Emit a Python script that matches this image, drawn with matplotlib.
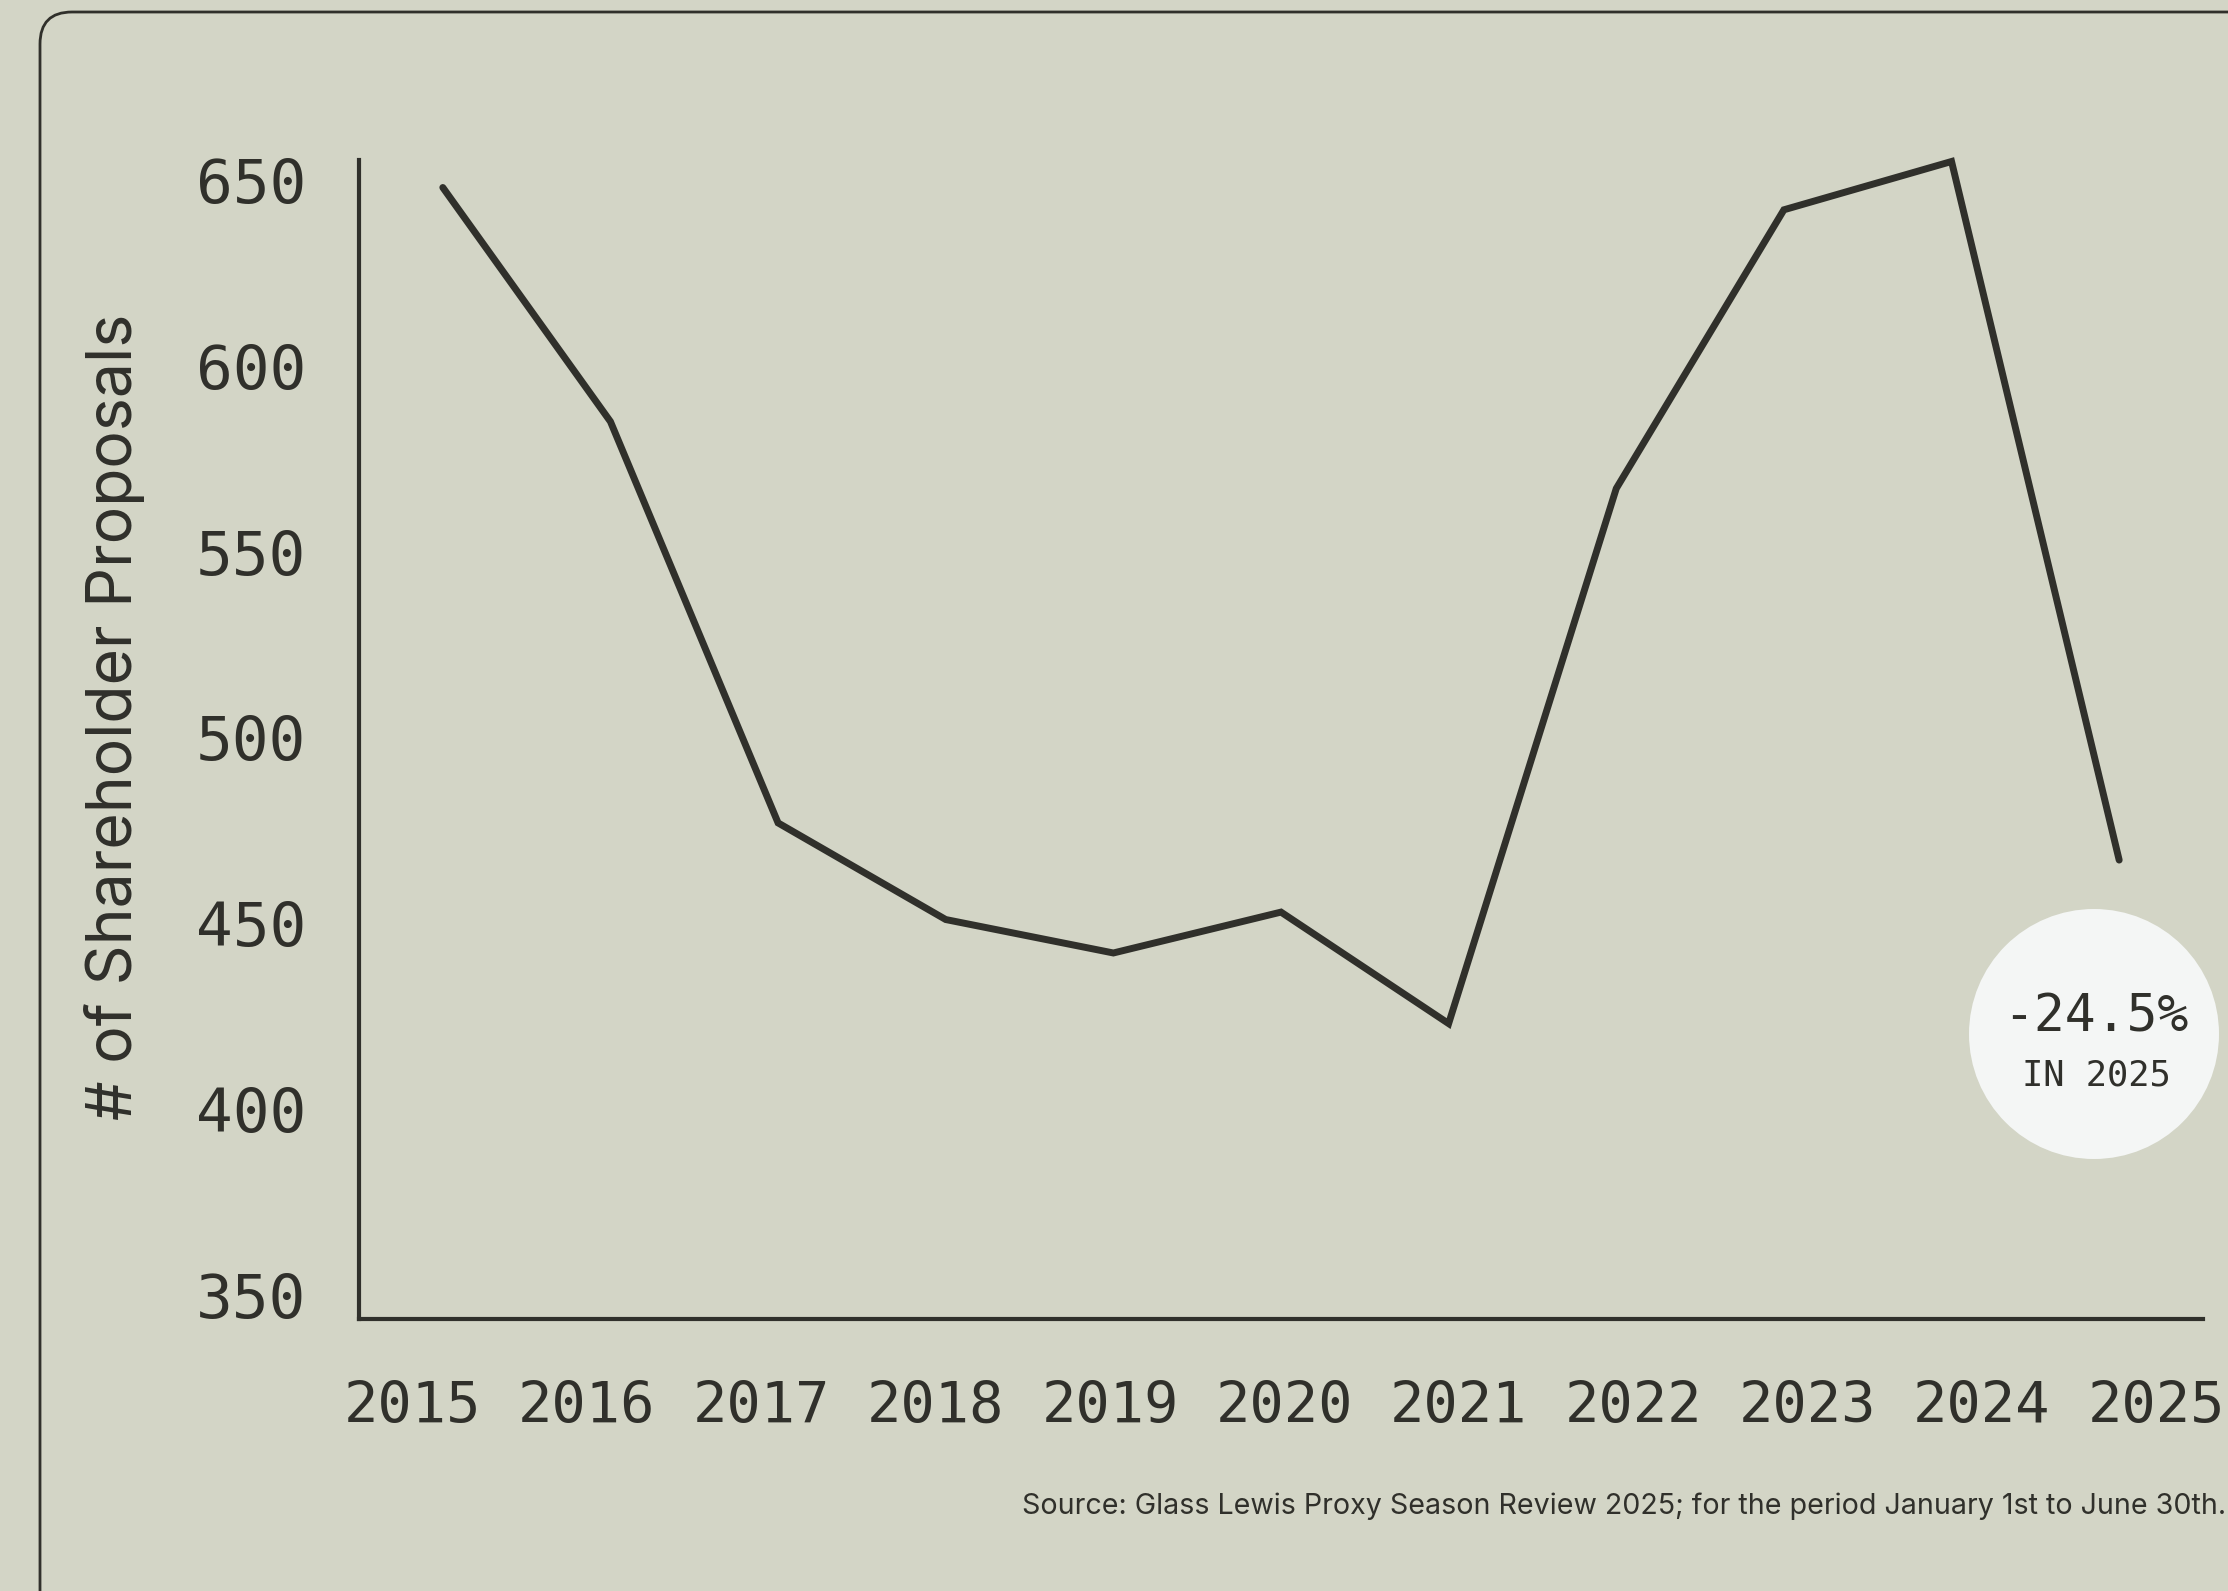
import matplotlib
matplotlib.use("Agg")
import matplotlib.pyplot as plt
from matplotlib.patches import FancyBboxPatch, Ellipse
from matplotlib.transforms import IdentityTransform

years = ["2015", "2016", "2017", "2018", "2019", "2020",
         "2021", "2022", "2023", "2024", "2025"]
proposals = [648, 585, 477, 451, 442, 453, 423, 567, 642, 655, 467]
y_ticks = [350, 400, 450, 500, 550, 600, 650]
change_text = "-24.5%"
change_sub = "IN 2025"
source = "Source: Glass Lewis Proxy Season Review 2025; for the period January 1st to June 30th."

BG = "#d3d5c6"
INK = "#30302b"
W, H, DPI = 2228, 1591, 100

fig = plt.figure(figsize=(W / DPI, H / DPI), dpi=DPI, facecolor=BG)

# rounded frame running off the right and bottom edges
frame = FancyBboxPatch((40, -60), 2400, H - 12 + 60,
                       boxstyle="round,pad=0,rounding_size=32",
                       transform=IdentityTransform(), facecolor="none",
                       edgecolor=INK, linewidth=2)
fig.add_artist(frame)

ax = fig.add_axes([359 / W, 272 / H, (2203 - 359) / W, (1431 - 272) / H])
ax.set_facecolor(BG)

x = list(range(len(years)))
ax.plot(x, proposals, color=INK, linewidth=5, solid_capstyle="round",
        solid_joinstyle="miter", clip_on=False)

ax.set_xlim(-0.5, len(years) - 0.5)
ax.set_ylim(343.5, 655.4)

for side in ["top", "right"]:
    ax.spines[side].set_visible(False)
for side in ["left", "bottom"]:
    ax.spines[side].set_color(INK)
    ax.spines[side].set_linewidth(3)

mono = "DejaVu Sans Mono"
ax.set_yticks(y_ticks)
ax.set_yticklabels([str(v) for v in y_ticks], family=mono, fontsize=44, color=INK)
# year labels are spread a little wider than the points
ax.set_xticks([-0.18 + 1.04 * i for i in x])
ax.set_xticklabels(years, family=mono, fontsize=41, color=INK)
ax.tick_params(axis="y", length=0, pad=38)
ax.tick_params(axis="x", length=0, pad=44)

ax.set_ylabel("# of Shareholder Proposals", family="Inter", fontsize=45,
              color=INK)
ax.yaxis.set_label_coords(-0.116, 0.52)

# callout bubble
fig.add_artist(Ellipse((2094 / W, 1 - 1034 / H), 250 / W, 250 / H,
                       transform=fig.transFigure, facecolor="#f4f6f5",
                       edgecolor="none"))
fig.text(2096 / W, 1 - 1018 / H, change_text, family=mono, fontsize=37,
         color=INK, ha="center", va="center")
fig.text(2096 / W, 1 - 1075 / H, change_sub, family=mono, fontsize=25.5,
         color=INK, ha="center", va="center")

fig.text(2226 / W, 1 - 1506 / H, source, family="Inter", fontsize=20.6,
         color=INK, ha="right", va="center")

fig.savefig("out.png", dpi=DPI, facecolor=BG)
